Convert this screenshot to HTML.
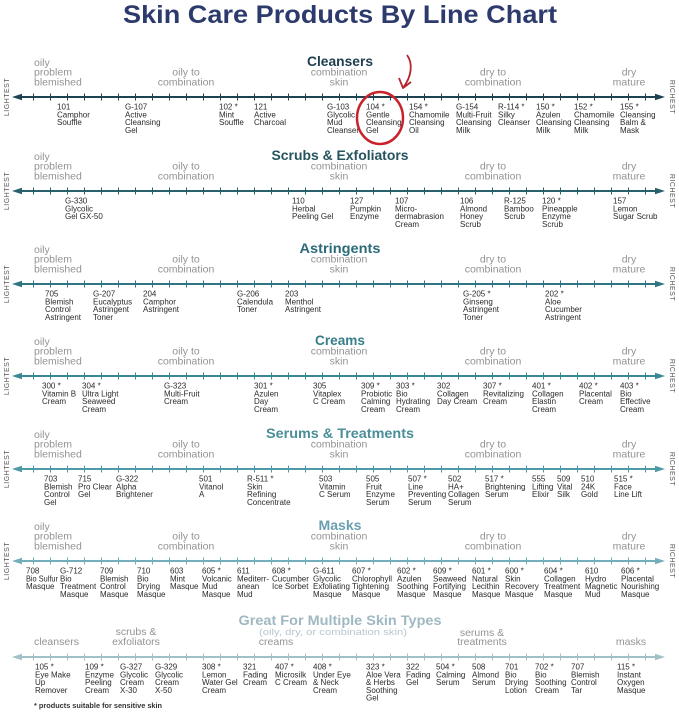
<!DOCTYPE html>
<html><head><meta charset="utf-8"><style>
html,body{margin:0;padding:0;background:#fff}
svg{display:block}
text{font-family:"Liberation Sans",Arial,sans-serif}
.t{font-size:25px;font-weight:bold;fill:#2c3a6c;text-anchor:middle}
.h{font-size:14px;font-weight:bold;text-anchor:middle}
.c{font-size:10.5px;fill:#939393}
.m{text-anchor:middle}
.l{font-size:8px;fill:#2a2a2a}
.s{font-size:7px;fill:#555;letter-spacing:0.5px;text-anchor:middle}
</style></head><body>
<svg width="679" height="727" viewBox="0 0 679 727" xmlns="http://www.w3.org/2000/svg">
<defs>
<g id="ax">
<line x1="18" y1="0" x2="659" y2="0" stroke="currentColor" stroke-width="2"/>
<path d="M12,0 L22,-3.3 L22,3.3Z" fill="currentColor"/>
<path d="M665,0 L655,-3.3 L655,3.3Z" fill="currentColor"/>
<path stroke="currentColor" stroke-width="1" d="M33.5,-3.5v7M50.5,-3.5v7M67.5,-3.5v7M84.5,-3.5v7M101.5,-3.5v7M118.5,-3.5v7M135.5,-3.5v7M152.5,-3.5v7M169.5,-3.5v7M186.5,-3.5v7M203.5,-3.5v7M220.5,-3.5v7M237.5,-3.5v7M254.5,-3.5v7M271.5,-3.5v7M288.5,-3.5v7M305.5,-3.5v7M322.5,-3.5v7M339.5,-3.5v7M356.5,-3.5v7M373.5,-3.5v7M390.5,-3.5v7M407.5,-3.5v7M424.5,-3.5v7M441.5,-3.5v7M458.5,-3.5v7M475.5,-3.5v7M492.5,-3.5v7M509.5,-3.5v7M526.5,-3.5v7M543.5,-3.5v7M560.5,-3.5v7M577.5,-3.5v7M594.5,-3.5v7M611.5,-3.5v7M628.5,-3.5v7M645.5,-3.5v7"/>
</g>
</defs>

<text class="t" x="340" y="23" textLength="434" lengthAdjust="spacingAndGlyphs">Skin Care Products By Line Chart</text>

<!-- CLEANSERS -->
<g transform="translate(0,97)">
<text class="h" x="340" y="-31" fill="#1d3e4e" textLength="66" lengthAdjust="spacingAndGlyphs">Cleansers</text>
<text class="c" x="34" y="-31">oily</text><text class="c" x="34" y="-21.3">problem</text><text class="c" x="34" y="-11.6">blemished</text>
<text class="c m" x="186" y="-21.3">oily to</text><text class="c m" x="186" y="-11.6">combination</text>
<text class="c m" x="339" y="-21.3">combination</text><text class="c m" x="339" y="-11.6">skin</text>
<text class="c m" x="493" y="-21.3">dry to</text><text class="c m" x="493" y="-11.6">combination</text>
<text class="c m" x="629" y="-21.3">dry</text><text class="c m" x="629" y="-11.6">mature</text>
<use href="#ax" style="color:#1e4251"/>
<text class="s" transform="translate(9,0) rotate(-90)">LIGHTEST</text>
<text class="s" transform="translate(670,0) rotate(90)">RICHEST</text>
<text class="l" y="12.5"><tspan x="57">101</tspan><tspan x="57" dy="7.8">Camphor</tspan><tspan x="57" dy="7.8">Souffle</tspan></text>
<text class="l" y="12.5"><tspan x="125">G-107</tspan><tspan x="125" dy="7.8">Active</tspan><tspan x="125" dy="7.8">Cleansing</tspan><tspan x="125" dy="7.8">Gel</tspan></text>
<text class="l" y="12.5"><tspan x="219">102 *</tspan><tspan x="219" dy="7.8">Mint</tspan><tspan x="219" dy="7.8">Souffle</tspan></text>
<text class="l" y="12.5"><tspan x="254">121</tspan><tspan x="254" dy="7.8">Active</tspan><tspan x="254" dy="7.8">Charcoal</tspan></text>
<text class="l" y="12.5"><tspan x="327">G-103</tspan><tspan x="327" dy="7.8">Glycolic</tspan><tspan x="327" dy="7.8">Mud</tspan><tspan x="327" dy="7.8">Cleanser</tspan></text>
<text class="l" y="12.5"><tspan x="366">104 *</tspan><tspan x="366" dy="7.8">Gentle</tspan><tspan x="366" dy="7.8">Cleansing</tspan><tspan x="366" dy="7.8">Gel</tspan></text>
<text class="l" y="12.5"><tspan x="409">154 *</tspan><tspan x="409" dy="7.8">Chamomile</tspan><tspan x="409" dy="7.8">Cleansing</tspan><tspan x="409" dy="7.8">Oil</tspan></text>
<text class="l" y="12.5"><tspan x="456">G-154</tspan><tspan x="456" dy="7.8">Multi-Fruit</tspan><tspan x="456" dy="7.8">Cleansing</tspan><tspan x="456" dy="7.8">Milk</tspan></text>
<text class="l" y="12.5"><tspan x="498">R-114 *</tspan><tspan x="498" dy="7.8">Silky</tspan><tspan x="498" dy="7.8">Cleanser</tspan></text>
<text class="l" y="12.5"><tspan x="536">150 *</tspan><tspan x="536" dy="7.8">Azulen</tspan><tspan x="536" dy="7.8">Cleansing</tspan><tspan x="536" dy="7.8">Milk</tspan></text>
<text class="l" y="12.5"><tspan x="574">152 *</tspan><tspan x="574" dy="7.8">Chamomile</tspan><tspan x="574" dy="7.8">Cleansing</tspan><tspan x="574" dy="7.8">Milk</tspan></text>
<text class="l" y="12.5"><tspan x="620">155 *</tspan><tspan x="620" dy="7.8">Cleansing</tspan><tspan x="620" dy="7.8">Balm &amp;</tspan><tspan x="620" dy="7.8">Mask</tspan></text>
</g>

<!-- SCRUBS -->
<g transform="translate(0,191)">
<text class="h" x="340" y="-31" fill="#25545f" textLength="137" lengthAdjust="spacingAndGlyphs">Scrubs &amp; Exfoliators</text>
<text class="c" x="34" y="-31">oily</text><text class="c" x="34" y="-21.3">problem</text><text class="c" x="34" y="-11.6">blemished</text>
<text class="c m" x="186" y="-21.3">oily to</text><text class="c m" x="186" y="-11.6">combination</text>
<text class="c m" x="339" y="-21.3">combination</text><text class="c m" x="339" y="-11.6">skin</text>
<text class="c m" x="493" y="-21.3">dry to</text><text class="c m" x="493" y="-11.6">combination</text>
<text class="c m" x="629" y="-21.3">dry</text><text class="c m" x="629" y="-11.6">mature</text>
<use href="#ax" style="color:#28606c"/>
<text class="s" transform="translate(9,0) rotate(-90)">LIGHTEST</text>
<text class="s" transform="translate(670,0) rotate(90)">RICHEST</text>
<text class="l" y="12.5"><tspan x="65">G-330</tspan><tspan x="65" dy="7.8">Glycolic</tspan><tspan x="65" dy="7.8">Gel GX-50</tspan></text>
<text class="l" y="12.5"><tspan x="292">110</tspan><tspan x="292" dy="7.8">Herbal</tspan><tspan x="292" dy="7.8">Peeling Gel</tspan></text>
<text class="l" y="12.5"><tspan x="350">127</tspan><tspan x="350" dy="7.8">Pumpkin</tspan><tspan x="350" dy="7.8">Enzyme</tspan></text>
<text class="l" y="12.5"><tspan x="395">107</tspan><tspan x="395" dy="7.8">Micro-</tspan><tspan x="395" dy="7.8">dermabrasion</tspan><tspan x="395" dy="7.8">Cream</tspan></text>
<text class="l" y="12.5"><tspan x="460">106</tspan><tspan x="460" dy="7.8">Almond</tspan><tspan x="460" dy="7.8">Honey</tspan><tspan x="460" dy="7.8">Scrub</tspan></text>
<text class="l" y="12.5"><tspan x="504">R-125</tspan><tspan x="504" dy="7.8">Bamboo</tspan><tspan x="504" dy="7.8">Scrub</tspan></text>
<text class="l" y="12.5"><tspan x="542">120 *</tspan><tspan x="542" dy="7.8">Pineapple</tspan><tspan x="542" dy="7.8">Enzyme</tspan><tspan x="542" dy="7.8">Scrub</tspan></text>
<text class="l" y="12.5"><tspan x="613">157</tspan><tspan x="613" dy="7.8">Lemon</tspan><tspan x="613" dy="7.8">Sugar Scrub</tspan></text>
</g>

<!-- ASTRINGENTS -->
<g transform="translate(0,284)">
<text class="h" x="340" y="-31" fill="#2b6a78" textLength="81" lengthAdjust="spacingAndGlyphs">Astringents</text>
<text class="c" x="34" y="-31">oily</text><text class="c" x="34" y="-21.3">problem</text><text class="c" x="34" y="-11.6">blemished</text>
<text class="c m" x="186" y="-21.3">oily to</text><text class="c m" x="186" y="-11.6">combination</text>
<text class="c m" x="339" y="-21.3">combination</text><text class="c m" x="339" y="-11.6">skin</text>
<text class="c m" x="493" y="-21.3">dry to</text><text class="c m" x="493" y="-11.6">combination</text>
<text class="c m" x="629" y="-21.3">dry</text><text class="c m" x="629" y="-11.6">mature</text>
<use href="#ax" style="color:#2f7581"/>
<text class="s" transform="translate(9,0) rotate(-90)">LIGHTEST</text>
<text class="s" transform="translate(670,0) rotate(90)">RICHEST</text>
<text class="l" y="12.5"><tspan x="45">705</tspan><tspan x="45" dy="7.8">Blemish</tspan><tspan x="45" dy="7.8">Control</tspan><tspan x="45" dy="7.8">Astringent</tspan></text>
<text class="l" y="12.5"><tspan x="93">G-207</tspan><tspan x="93" dy="7.8">Eucalyptus</tspan><tspan x="93" dy="7.8">Astringent</tspan><tspan x="93" dy="7.8">Toner</tspan></text>
<text class="l" y="12.5"><tspan x="143">204</tspan><tspan x="143" dy="7.8">Camphor</tspan><tspan x="143" dy="7.8">Astringent</tspan></text>
<text class="l" y="12.5"><tspan x="237">G-206</tspan><tspan x="237" dy="7.8">Calendula</tspan><tspan x="237" dy="7.8">Toner</tspan></text>
<text class="l" y="12.5"><tspan x="285">203</tspan><tspan x="285" dy="7.8">Menthol</tspan><tspan x="285" dy="7.8">Astringent</tspan></text>
<text class="l" y="12.5"><tspan x="463">G-205 *</tspan><tspan x="463" dy="7.8">Ginseng</tspan><tspan x="463" dy="7.8">Astringent</tspan><tspan x="463" dy="7.8">Toner</tspan></text>
<text class="l" y="12.5"><tspan x="545">202 *</tspan><tspan x="545" dy="7.8">Aloe</tspan><tspan x="545" dy="7.8">Cucumber</tspan><tspan x="545" dy="7.8">Astringent</tspan></text>
</g>

<!-- CREAMS -->
<g transform="translate(0,376)">
<text class="h" x="340" y="-31" fill="#377e8a" textLength="50" lengthAdjust="spacingAndGlyphs">Creams</text>
<text class="c" x="34" y="-31">oily</text><text class="c" x="34" y="-21.3">problem</text><text class="c" x="34" y="-11.6">blemished</text>
<text class="c m" x="186" y="-21.3">oily to</text><text class="c m" x="186" y="-11.6">combination</text>
<text class="c m" x="339" y="-21.3">combination</text><text class="c m" x="339" y="-11.6">skin</text>
<text class="c m" x="493" y="-21.3">dry to</text><text class="c m" x="493" y="-11.6">combination</text>
<text class="c m" x="629" y="-21.3">dry</text><text class="c m" x="629" y="-11.6">mature</text>
<use href="#ax" style="color:#3a8895"/>
<text class="s" transform="translate(9,0) rotate(-90)">LIGHTEST</text>
<text class="s" transform="translate(670,0) rotate(90)">RICHEST</text>
<text class="l" y="12.5"><tspan x="42">300 *</tspan><tspan x="42" dy="7.8">Vitamin B</tspan><tspan x="42" dy="7.8">Cream</tspan></text>
<text class="l" y="12.5"><tspan x="82">304 *</tspan><tspan x="82" dy="7.8">Ultra Light</tspan><tspan x="82" dy="7.8">Seaweed</tspan><tspan x="82" dy="7.8">Cream</tspan></text>
<text class="l" y="12.5"><tspan x="164">G-323</tspan><tspan x="164" dy="7.8">Multi-Fruit</tspan><tspan x="164" dy="7.8">Cream</tspan></text>
<text class="l" y="12.5"><tspan x="254">301 *</tspan><tspan x="254" dy="7.8">Azulen</tspan><tspan x="254" dy="7.8">Day</tspan><tspan x="254" dy="7.8">Cream</tspan></text>
<text class="l" y="12.5"><tspan x="313">305</tspan><tspan x="313" dy="7.8">Vitaplex</tspan><tspan x="313" dy="7.8">C Cream</tspan></text>
<text class="l" y="12.5"><tspan x="361">309 *</tspan><tspan x="361" dy="7.8">Probiotic</tspan><tspan x="361" dy="7.8">Calming</tspan><tspan x="361" dy="7.8">Cream</tspan></text>
<text class="l" y="12.5"><tspan x="396">303 *</tspan><tspan x="396" dy="7.8">Bio</tspan><tspan x="396" dy="7.8">Hydrating</tspan><tspan x="396" dy="7.8">Cream</tspan></text>
<text class="l" y="12.5"><tspan x="437">302</tspan><tspan x="437" dy="7.8">Collagen</tspan><tspan x="437" dy="7.8">Day Cream</tspan></text>
<text class="l" y="12.5"><tspan x="483">307 *</tspan><tspan x="483" dy="7.8">Revitalizing</tspan><tspan x="483" dy="7.8">Cream</tspan></text>
<text class="l" y="12.5"><tspan x="532">401 *</tspan><tspan x="532" dy="7.8">Collagen</tspan><tspan x="532" dy="7.8">Elastin</tspan><tspan x="532" dy="7.8">Cream</tspan></text>
<text class="l" y="12.5"><tspan x="579">402 *</tspan><tspan x="579" dy="7.8">Placental</tspan><tspan x="579" dy="7.8">Cream</tspan></text>
<text class="l" y="12.5"><tspan x="620">403 *</tspan><tspan x="620" dy="7.8">Bio</tspan><tspan x="620" dy="7.8">Effective</tspan><tspan x="620" dy="7.8">Cream</tspan></text>
</g>

<!-- SERUMS -->
<g transform="translate(0,469)">
<text class="h" x="340" y="-31" fill="#4a8e99" textLength="148" lengthAdjust="spacingAndGlyphs">Serums &amp; Treatments</text>
<text class="c" x="34" y="-31">oily</text><text class="c" x="34" y="-21.3">problem</text><text class="c" x="34" y="-11.6">blemished</text>
<text class="c m" x="186" y="-21.3">oily to</text><text class="c m" x="186" y="-11.6">combination</text>
<text class="c m" x="339" y="-21.3">combination</text><text class="c m" x="339" y="-11.6">skin</text>
<text class="c m" x="493" y="-21.3">dry to</text><text class="c m" x="493" y="-11.6">combination</text>
<text class="c m" x="629" y="-21.3">dry</text><text class="c m" x="629" y="-11.6">mature</text>
<use href="#ax" style="color:#4d99a5"/>
<text class="s" transform="translate(9,0) rotate(-90)">LIGHTEST</text>
<text class="s" transform="translate(670,0) rotate(90)">RICHEST</text>
<text class="l" y="12.5"><tspan x="44">703</tspan><tspan x="44" dy="7.8">Blemish</tspan><tspan x="44" dy="7.8">Control</tspan><tspan x="44" dy="7.8">Gel</tspan></text>
<text class="l" y="12.5"><tspan x="78">715</tspan><tspan x="78" dy="7.8">Pro Clear</tspan><tspan x="78" dy="7.8">Gel</tspan></text>
<text class="l" y="12.5"><tspan x="116">G-322</tspan><tspan x="116" dy="7.8">Alpha</tspan><tspan x="116" dy="7.8">Brightener</tspan></text>
<text class="l" y="12.5"><tspan x="199">501</tspan><tspan x="199" dy="7.8">Vitanol</tspan><tspan x="199" dy="7.8">A</tspan></text>
<text class="l" y="12.5"><tspan x="247">R-511 *</tspan><tspan x="247" dy="7.8">Skin</tspan><tspan x="247" dy="7.8">Refining</tspan><tspan x="247" dy="7.8">Concentrate</tspan></text>
<text class="l" y="12.5"><tspan x="319">503</tspan><tspan x="319" dy="7.8">Vitamin</tspan><tspan x="319" dy="7.8">C Serum</tspan></text>
<text class="l" y="12.5"><tspan x="366">505</tspan><tspan x="366" dy="7.8">Fruit</tspan><tspan x="366" dy="7.8">Enzyme</tspan><tspan x="366" dy="7.8">Serum</tspan></text>
<text class="l" y="12.5"><tspan x="408">507 *</tspan><tspan x="408" dy="7.8">Line</tspan><tspan x="408" dy="7.8">Preventing</tspan><tspan x="408" dy="7.8">Serum</tspan></text>
<text class="l" y="12.5"><tspan x="448">502</tspan><tspan x="448" dy="7.8">HA+</tspan><tspan x="448" dy="7.8">Collagen</tspan><tspan x="448" dy="7.8">Serum</tspan></text>
<text class="l" y="12.5"><tspan x="485">517 *</tspan><tspan x="485" dy="7.8">Brightening</tspan><tspan x="485" dy="7.8">Serum</tspan></text>
<text class="l" y="12.5"><tspan x="532">555</tspan><tspan x="532" dy="7.8">Lifting</tspan><tspan x="532" dy="7.8">Elixir</tspan></text>
<text class="l" y="12.5"><tspan x="557">509</tspan><tspan x="557" dy="7.8">Vital</tspan><tspan x="557" dy="7.8">Silk</tspan></text>
<text class="l" y="12.5"><tspan x="581">510</tspan><tspan x="581" dy="7.8">24K</tspan><tspan x="581" dy="7.8">Gold</tspan></text>
<text class="l" y="12.5"><tspan x="614">515 *</tspan><tspan x="614" dy="7.8">Face</tspan><tspan x="614" dy="7.8">Line Lift</tspan></text>
</g>

<!-- MASKS -->
<g transform="translate(0,561)">
<text class="h" x="340" y="-31" fill="#6a9fb1" textLength="43" lengthAdjust="spacingAndGlyphs">Masks</text>
<text class="c" x="34" y="-31">oily</text><text class="c" x="34" y="-21.3">problem</text><text class="c" x="34" y="-11.6">blemished</text>
<text class="c m" x="186" y="-21.3">oily to</text><text class="c m" x="186" y="-11.6">combination</text>
<text class="c m" x="339" y="-21.3">combination</text><text class="c m" x="339" y="-11.6">skin</text>
<text class="c m" x="493" y="-21.3">dry to</text><text class="c m" x="493" y="-11.6">combination</text>
<text class="c m" x="629" y="-21.3">dry</text><text class="c m" x="629" y="-11.6">mature</text>
<use href="#ax" style="color:#74aebb"/>
<text class="s" transform="translate(9,0) rotate(-90)">LIGHTEST</text>
<text class="s" transform="translate(670,0) rotate(90)">RICHEST</text>
<text class="l" y="12.5"><tspan x="26">708</tspan><tspan x="26" dy="7.8" textLength="32" lengthAdjust="spacingAndGlyphs">Bio Sulfur</tspan><tspan x="26" dy="7.8">Masque</tspan></text>
<text class="l" y="12.5"><tspan x="60">G-712</tspan><tspan x="60" dy="7.8">Bio</tspan><tspan x="60" dy="7.8">Treatment</tspan><tspan x="60" dy="7.8">Masque</tspan></text>
<text class="l" y="12.5"><tspan x="100">709</tspan><tspan x="100" dy="7.8">Blemish</tspan><tspan x="100" dy="7.8">Control</tspan><tspan x="100" dy="7.8">Masque</tspan></text>
<text class="l" y="12.5"><tspan x="137">710</tspan><tspan x="137" dy="7.8">Bio</tspan><tspan x="137" dy="7.8">Drying</tspan><tspan x="137" dy="7.8">Masque</tspan></text>
<text class="l" y="12.5"><tspan x="170">603</tspan><tspan x="170" dy="7.8">Mint</tspan><tspan x="170" dy="7.8">Masque</tspan></text>
<text class="l" y="12.5"><tspan x="202">605 *</tspan><tspan x="202" dy="7.8">Volcanic</tspan><tspan x="202" dy="7.8">Mud</tspan><tspan x="202" dy="7.8">Masque</tspan></text>
<text class="l" y="12.5"><tspan x="237">611</tspan><tspan x="237" dy="7.8">Mediterr-</tspan><tspan x="237" dy="7.8">anean</tspan><tspan x="237" dy="7.8">Mud</tspan></text>
<text class="l" y="12.5"><tspan x="272">608 *</tspan><tspan x="272" dy="7.8">Cucumber</tspan><tspan x="272" dy="7.8">Ice Sorbet</tspan></text>
<text class="l" y="12.5"><tspan x="313">G-611</tspan><tspan x="313" dy="7.8">Glycolic</tspan><tspan x="313" dy="7.8">Exfoliating</tspan><tspan x="313" dy="7.8">Masque</tspan></text>
<text class="l" y="12.5"><tspan x="352">607 *</tspan><tspan x="352" dy="7.8">Chlorophyll</tspan><tspan x="352" dy="7.8">Tightening</tspan><tspan x="352" dy="7.8">Masque</tspan></text>
<text class="l" y="12.5"><tspan x="397">602 *</tspan><tspan x="397" dy="7.8">Azulen</tspan><tspan x="397" dy="7.8">Soothing</tspan><tspan x="397" dy="7.8">Masque</tspan></text>
<text class="l" y="12.5"><tspan x="433">609 *</tspan><tspan x="433" dy="7.8">Seaweed</tspan><tspan x="433" dy="7.8">Fortifying</tspan><tspan x="433" dy="7.8">Masque</tspan></text>
<text class="l" y="12.5"><tspan x="472">601 *</tspan><tspan x="472" dy="7.8">Natural</tspan><tspan x="472" dy="7.8">Lecithin</tspan><tspan x="472" dy="7.8">Masque</tspan></text>
<text class="l" y="12.5"><tspan x="505">600 *</tspan><tspan x="505" dy="7.8">Skin</tspan><tspan x="505" dy="7.8">Recovery</tspan><tspan x="505" dy="7.8">Masque</tspan></text>
<text class="l" y="12.5"><tspan x="544">604 *</tspan><tspan x="544" dy="7.8">Collagen</tspan><tspan x="544" dy="7.8">Treatment</tspan><tspan x="544" dy="7.8">Masque</tspan></text>
<text class="l" y="12.5"><tspan x="585">610</tspan><tspan x="585" dy="7.8">Hydro</tspan><tspan x="585" dy="7.8">Magnetic</tspan><tspan x="585" dy="7.8">Mud</tspan></text>
<text class="l" y="12.5"><tspan x="621">606 *</tspan><tspan x="621" dy="7.8">Placental</tspan><tspan x="621" dy="7.8">Nourishing</tspan><tspan x="621" dy="7.8">Masque</tspan></text>
</g>

<!-- MULTIPLE -->
<g transform="translate(0,657)">
<text class="h" x="340" y="-32" fill="#9fb8c1" textLength="203" lengthAdjust="spacingAndGlyphs">Great For Multiple Skin Types</text>
<text class="m" x="333" y="-22" font-size="9.5" fill="#b6c7cd" textLength="148" lengthAdjust="spacingAndGlyphs">(oily, dry, or combination skin)</text>
<text class="c" x="34" y="-12">cleansers</text>
<text class="c m" x="136" y="-22">scrubs &amp;</text><text class="c m" x="136" y="-12">exfoliators</text>
<text class="c m" x="276" y="-12">creams</text>
<text class="c m" x="482" y="-21">serums &amp;</text><text class="c m" x="482" y="-12">treatments</text>
<text class="c m" x="631" y="-12">masks</text>
<use href="#ax" style="color:#a1c0c8"/>
<text class="l" y="12.5"><tspan x="35">105 *</tspan><tspan x="35" dy="7.8">Eye Make</tspan><tspan x="35" dy="7.8">Up</tspan><tspan x="35" dy="7.8">Remover</tspan></text>
<text class="l" y="12.5"><tspan x="85">109 *</tspan><tspan x="85" dy="7.8">Enzyme</tspan><tspan x="85" dy="7.8">Peeling</tspan><tspan x="85" dy="7.8">Cream</tspan></text>
<text class="l" y="12.5"><tspan x="120">G-327</tspan><tspan x="120" dy="7.8">Glycolic</tspan><tspan x="120" dy="7.8">Cream</tspan><tspan x="120" dy="7.8">X-30</tspan></text>
<text class="l" y="12.5"><tspan x="155">G-329</tspan><tspan x="155" dy="7.8">Glycolic</tspan><tspan x="155" dy="7.8">Cream</tspan><tspan x="155" dy="7.8">X-50</tspan></text>
<text class="l" y="12.5"><tspan x="202">308 *</tspan><tspan x="202" dy="7.8">Lemon</tspan><tspan x="202" dy="7.8">Water Gel</tspan><tspan x="202" dy="7.8">Cream</tspan></text>
<text class="l" y="12.5"><tspan x="243">321</tspan><tspan x="243" dy="7.8">Fading</tspan><tspan x="243" dy="7.8">Cream</tspan></text>
<text class="l" y="12.5"><tspan x="275">407 *</tspan><tspan x="275" dy="7.8">Microsilk</tspan><tspan x="275" dy="7.8">C Cream</tspan></text>
<text class="l" y="12.5"><tspan x="313">408 *</tspan><tspan x="313" dy="7.8">Under Eye</tspan><tspan x="313" dy="7.8">&amp; Neck</tspan><tspan x="313" dy="7.8">Cream</tspan></text>
<text class="l" y="12.5"><tspan x="366">323 *</tspan><tspan x="366" dy="7.8">Aloe Vera</tspan><tspan x="366" dy="7.8">&amp; Herbs</tspan><tspan x="366" dy="7.8">Soothing</tspan><tspan x="366" dy="7.8">Gel</tspan></text>
<text class="l" y="12.5"><tspan x="406">322</tspan><tspan x="406" dy="7.8">Fading</tspan><tspan x="406" dy="7.8">Gel</tspan></text>
<text class="l" y="12.5"><tspan x="436">504 *</tspan><tspan x="436" dy="7.8">Calming</tspan><tspan x="436" dy="7.8">Serum</tspan></text>
<text class="l" y="12.5"><tspan x="472">508</tspan><tspan x="472" dy="7.8">Almond</tspan><tspan x="472" dy="7.8">Serum</tspan></text>
<text class="l" y="12.5"><tspan x="505">701</tspan><tspan x="505" dy="7.8">Bio</tspan><tspan x="505" dy="7.8">Drying</tspan><tspan x="505" dy="7.8">Lotion</tspan></text>
<text class="l" y="12.5"><tspan x="535">702 *</tspan><tspan x="535" dy="7.8">Bio</tspan><tspan x="535" dy="7.8">Soothing</tspan><tspan x="535" dy="7.8">Cream</tspan></text>
<text class="l" y="12.5"><tspan x="571">707</tspan><tspan x="571" dy="7.8">Blemish</tspan><tspan x="571" dy="7.8">Control</tspan><tspan x="571" dy="7.8">Tar</tspan></text>
<text class="l" y="12.5"><tspan x="617">115 *</tspan><tspan x="617" dy="7.8">Instant</tspan><tspan x="617" dy="7.8">Oxygen</tspan><tspan x="617" dy="7.8">Masque</tspan></text>
</g>

<text x="34" y="708" font-size="7.5" font-weight="bold" fill="#333" textLength="128" lengthAdjust="spacingAndGlyphs">* products suitable for sensitive skin</text>

<!-- red highlight -->
<ellipse cx="380" cy="118" rx="23" ry="26" fill="none" stroke="#c9222b" stroke-width="2.5"/>
<path d="M407,55 C413,63 412,76 403,88" fill="none" stroke="#b5232c" stroke-width="1.8"/>
<path d="M399,78 L403,88 L411,82" fill="none" stroke="#b5232c" stroke-width="1.8" stroke-linejoin="round"/>
</svg>
</body></html>
